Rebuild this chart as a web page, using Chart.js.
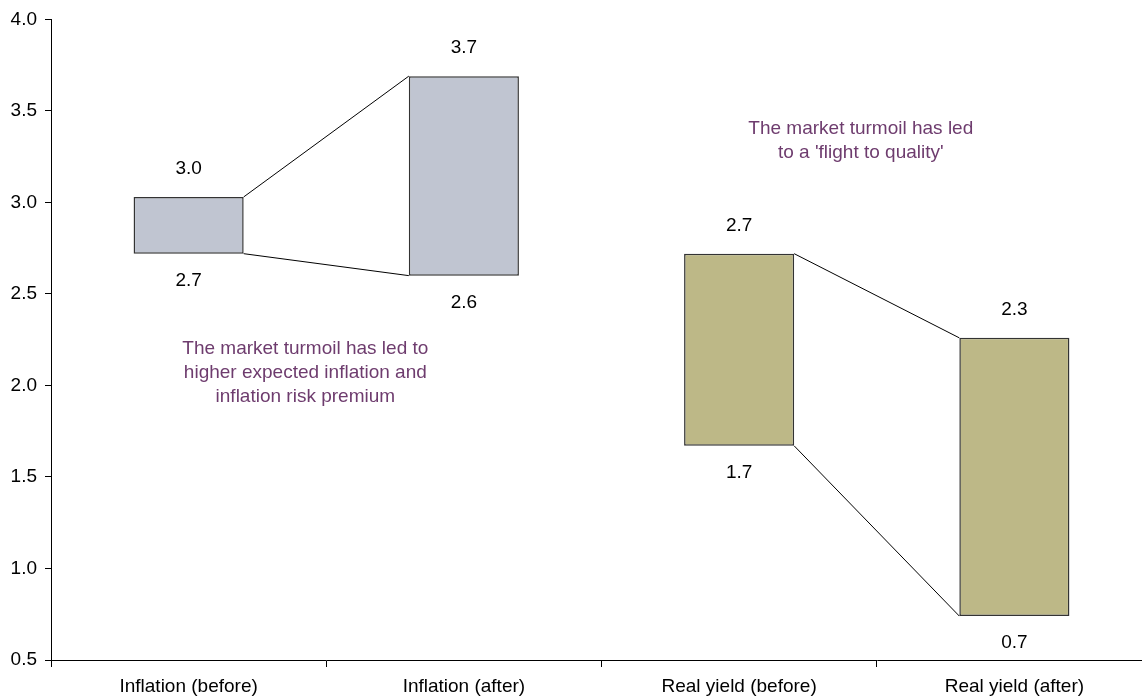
<!DOCTYPE html>
<html>
<head>
<meta charset="utf-8">
<script src="https://cdn.jsdelivr.net/npm/chart.js@4.4.1/dist/chart.umd.min.js"></script>
<style>
  html, body { margin: 0; padding: 0; background: #fff; overflow: hidden; }
</style>
</head>
<body>
<canvas id="rangeChart" width="1152" height="700"></canvas>
<script>
const categories = ["Inflation (before)", "Inflation (after)", "Real yield (before)", "Real yield (after)"];
const lows = [2.72, 2.60, 1.67, 0.74];
const highs = [3.03, 3.69, 2.72, 2.26];
const barColors = ["#c0c5d1", "#c0c5d1", "#bdb887", "#bdb887"];
// before -> after pairs joined by connector lines
const pairs = [[0, 1], [2, 3]];
const yTicks = [0.5, 1.0, 1.5, 2.0, 2.5, 3.0, 3.5, 4.0];

const notes = [
    { x: 0.424, y: 2.20, lines: ["The market turmoil has led to", "higher expected inflation and", "inflation risk premium"] },
    { x: 2.442, y: 3.40, lines: ["The market turmoil has led", "to a 'flight to quality'"] }
];

Chart.defaults.font.family = "'Liberation Sans', Arial, sans-serif";
Chart.defaults.font.size = 19;
Chart.defaults.color = "#000";

const extras = {
    id: "extras",
    afterDatasetsDraw(chart) {
        const ctx = chart.ctx;
        const y = chart.scales.y;
        const x = chart.scales.x;
        const bars = chart.getDatasetMeta(0).data;
        ctx.save();

        // connectors between before/after bars
        ctx.strokeStyle = "#000";
        ctx.lineWidth = 1;
        pairs.forEach(([a, b]) => {
            const xa = bars[a].x + bars[a].width / 2;
            const xb = bars[b].x - bars[b].width / 2;
            ctx.beginPath();
            ctx.moveTo(xa, y.getPixelForValue(highs[a]));
            ctx.lineTo(xb, y.getPixelForValue(highs[b]));
            ctx.moveTo(xa, y.getPixelForValue(lows[a]));
            ctx.lineTo(xb, y.getPixelForValue(lows[b]));
            ctx.stroke();
        });

        // value labels above and below each bar
        ctx.font = "19px 'Liberation Sans', Arial, sans-serif";
        ctx.fillStyle = "#000";
        ctx.textAlign = "center";
        ctx.textBaseline = "middle";
        bars.forEach((bar, i) => {
            ctx.fillText(highs[i].toFixed(1), bar.x, y.getPixelForValue(highs[i]) - 28);
            ctx.fillText(lows[i].toFixed(1), bar.x, y.getPixelForValue(lows[i]) + 27);
        });

        // commentary
        ctx.fillStyle = "#6e3c6e";
        notes.forEach(n => {
            const cx = x.getPixelForValue(n.x);
            const cy = y.getPixelForValue(n.y);
            n.lines.forEach((t, k) => ctx.fillText(t, cx, cy + k * 24));
        });
        ctx.restore();
    }
};

new Chart(document.getElementById("rangeChart"), {
    type: "bar",
    data: {
        labels: categories,
        datasets: [{
            data: categories.map((c, i) => [lows[i], highs[i]]),
            backgroundColor: barColors,
            borderColor: "#333",
            borderWidth: 1.5,
            borderSkipped: false,
            barPercentage: 0.4,
            categoryPercentage: 1
        }]
    },
    options: {
        responsive: false,
        animation: false,
        layout: { padding: { top: 8, right: 0, left: 0, bottom: 0 } },
        plugins: { legend: { display: false }, tooltip: { enabled: false } },
        scales: {
            x: {
                grid: { offset: true, drawOnChartArea: false, color: "#000", tickLength: 7 },
                border: { color: "#000", width: 1 },
                ticks: { padding: 8, maxRotation: 0 },
                afterFit(s) { s.height = 40; }
            },
            y: {
                min: 0.5,
                max: 4.0,
                afterBuildTicks(s) { s.ticks = yTicks.map(v => ({ value: v })); },
                ticks: { padding: 8, callback: v => v.toFixed(1) },
                grid: { drawOnChartArea: false, color: "#000", tickLength: 6 },
                border: { color: "#000", width: 1 },
                afterFit(s) { s.width = 51; }
            }
        }
    },
    plugins: [extras]
});
</script>
</body>
</html>
